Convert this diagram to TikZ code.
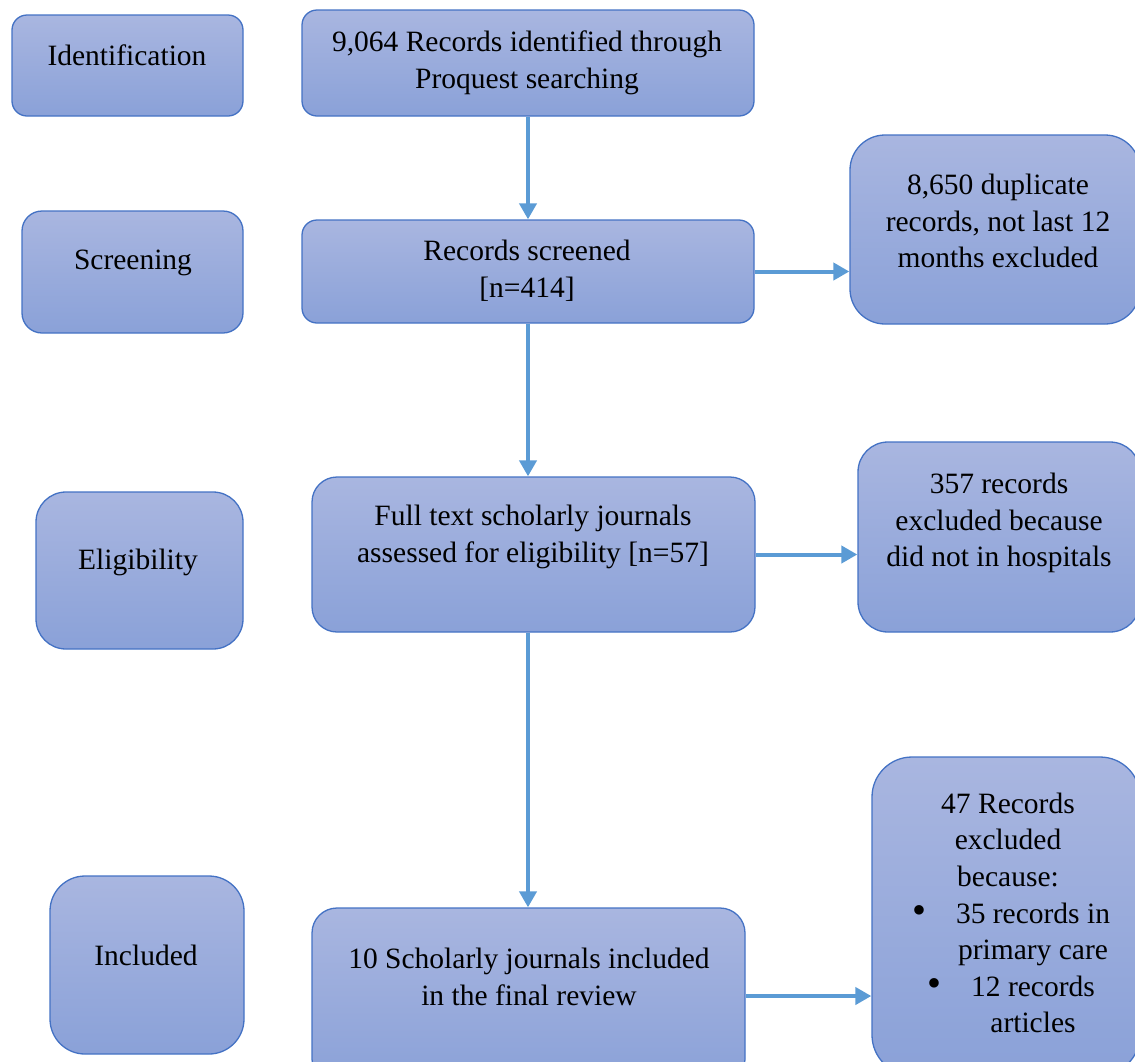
\documentclass[tikz,border=0pt]{standalone}
\usepackage{fontspec}
\setmainfont{Liberation Serif}
\usetikzlibrary{arrows.meta}
\definecolor{boxtop}{RGB}{169,182,224}
\definecolor{boxbot}{RGB}{138,161,216}
\definecolor{boxline}{RGB}{68,114,196}
\definecolor{flowline}{RGB}{91,155,213}

\begin{document}
\begin{tikzpicture}[x=1pt, y=-1pt,
  every node/.style={font=\fontsize{29.5}{36.6}\selectfont},
  stagebox/.style={draw=boxline, line width=1.3pt, top color=boxtop,
    bottom color=boxbot, rounded corners=#1, inner sep=0pt},
  stagebox/.default=15pt,
  txt/.style={align=center, inner sep=0pt},
  flow/.style={draw=flowline, line width=4pt, -{Triangle[width=17pt,length=16pt]}}]
  \useasboundingbox (0,0) rectangle (1135,1061);
  \clip (0,0) rectangle (1135,1061);
  % phase labels on the left
  \node[stagebox=15pt, minimum width=231pt, minimum height=101pt] (ident) at (127.5,65.5) {};
  \node[stagebox=20pt, minimum width=221pt, minimum height=122pt] (screen) at (132.5,272) {};
  \node[stagebox=30pt, minimum width=207pt, minimum height=157pt] (elig) at (139.5,570.5) {};
  \node[stagebox=35pt, minimum width=194pt, minimum height=178pt] (incl) at (147,965) {};
  \node[txt] (identtext) at (127,55) {Identification};
  \node[txt] (screentext) at (133,263) {Screening};
  \node[txt] (eligtext) at (138,562) {Eligibility};
  \node[txt] (incltext) at (146,955) {Included};
  % main flow
  \node[stagebox=15pt, minimum width=452pt, minimum height=106pt] (search) at (528,63) {};
  \node[txt] (searchtext) at (527,63) {9,064 Records identified through\\Proquest searching};
  \node[stagebox=15pt, minimum width=452pt, minimum height=103pt] (screened) at (528,271.5) {};
  \node[txt] (screenedtext) at (527,271) {Records screened\\{}[n=414]};
  \node[stagebox=25pt, minimum width=443pt, minimum height=155pt] (fulltext) at (533.5,554.5) {};
  \node[txt] (fulltexttext) at (533,537) {Full text scholarly journals\\assessed for eligibility [n=57]};
  \node[stagebox=25pt, minimum width=433pt, minimum height=176pt] (final) at (528.5,996) {};
  \node[txt] (finaltext) at (529,977) {10 Scholarly journals included\\in the final review};
  % exclusions on the right
  \node[stagebox=35pt, minimum width=290pt, minimum height=189pt] (dup) at (995,229.5) {};
  \node[txt] (duptext) at (998,221) {8,650 duplicate\\records, not last 12\\months excluded};
  \node[stagebox=30pt, minimum width=282pt, minimum height=190pt] (hosp) at (999,537) {};
  \node[txt] (hosptext) at (999,523) {357 records\\excluded because\\did not in hospitals};
  \node[stagebox=40pt, minimum width=268pt, minimum height=318pt] (excl) at (1006,916) {};
  \node[txt] (excltext) at (1008,913) {47 Records\\excluded\\because:\\
    \hspace*{50pt}\llap{\scalebox{1.35}{\textbullet}\hspace{30pt}}35 records in\\
    \hspace*{50pt}primary care\\
    \hspace*{50pt}\llap{\scalebox{1.35}{\textbullet}\hspace{30pt}}12 records\\
    \hspace*{50pt}articles};
  % arrows
  \draw[flow] (search.south -| screened.south) -- (screened.north);
  \draw[flow] (screened.south) -- (screened.south |- fulltext.north);
  \draw[flow] (screened.south |- fulltext.south) -- (screened.south |- final.north);
  \draw[flow] (screened.east) -- (screened.east -| dup.west);
  \draw[flow] (fulltext.east) -- (fulltext.east -| hosp.west);
  \draw[flow] (final.east) -- (final.east -| excl.west);
\end{tikzpicture}
\end{document}
